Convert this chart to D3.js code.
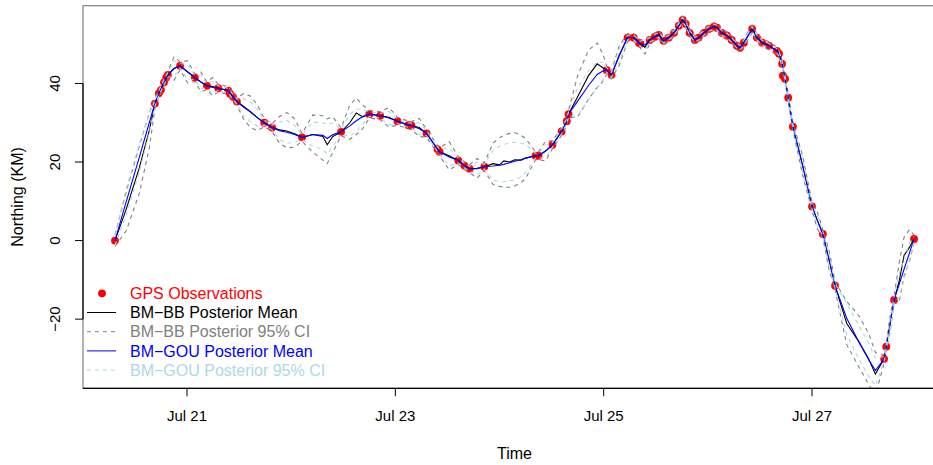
<!DOCTYPE html>
<html>
<head>
<meta charset="utf-8">
<script src="https://cdn.jsdelivr.net/npm/d3@7"></script>
<style>
  body { margin: 0; background: #fff; }
  svg { display: block; font-family: "Liberation Sans", Arial, sans-serif; }
</style>
</head>
<body>
<div id="chart"></div>
<script>
// hours since Jul 20 00:00
var gridHours = [7.4, 10.0, 13.0, 15.3, 16.6, 17.5, 18.7, 19.6, 21.0, 22.4,
  24.1, 25.8, 27.2, 28.6, 29.9, 31.2, 33.5, 34.6, 35.5, 37.0,
  38.6, 40.2, 41.8, 43.6, 45.3, 47.0, 48.8, 50.5, 53.0, 55.3,
  56.3, 57.6, 59.5, 61.5, 63.0, 64.5, 66.0, 68.5, 70.5, 72.5,
  75.0, 75.7, 77.5, 79.2, 81.7, 82.2, 84.4, 86.5, 87.9, 89.1,
  90.8, 92.5, 94.5, 96.0, 97.0, 98.3, 99.5, 101.0, 102.0, 104.3,
  105.0, 106.6, 108.2, 110.3, 111.5, 111.9, 114.0, 116.5, 118.5, 119.8,
  120.7, 121.8, 123.6, 125.5, 126.9, 128.3, 129.5, 130.6, 131.8, 132.7,
  133.8, 135.0, 136.2, 137.3, 138.2, 138.9, 139.8, 141.0, 141.9, 143.1,
  144.2, 145.4, 146.1, 147.2, 148.4, 149.5, 150.7, 151.4, 152.3, 154.2,
  155.3, 156.5, 158.1, 159.9, 160.4, 161.1, 161.8, 162.5, 163.6, 165.8,
  168.0, 169.2, 170.5, 171.9, 173.3, 176.0, 178.7, 181.0, 182.6, 184.6,
  185.1, 186.0, 186.9, 188.1, 189.2, 190.4, 191.5];

var bbMean = [0, 8.0, 18.5, 28.0, 34.9, 37.5, 40.3, 42.2, 43.8, 44.5,
  43.0, 41.5, 40.4, 39.4, 39.2, 38.8, 38.2, 36.6, 35.4, 34.2,
  32.8, 31.3, 30.0, 28.8, 28.2, 27.9, 27.2, 26.3, 27.0, 26.5,
  24.4, 26.5, 27.7, 30.0, 32.5, 31.5, 32.2, 31.8, 31.4, 30.4,
  29.4, 29.3, 28.8, 27.3, 23.3, 22.6, 21.6, 20.4, 19.1, 18.3,
  18.4, 18.8, 19.6, 19.3, 20.3, 20.0, 20.6, 20.5, 21.0, 21.6,
  21.6, 22.8, 24.4, 27.8, 30.4, 32.2, 36.6, 42.0, 45.0, 44.0,
  43.4, 42.2, 47.2, 51.7, 51.7, 50.2, 49.2, 51.1, 51.9, 52.4,
  50.9, 51.7, 52.9, 54.7, 56.2, 55.2, 52.9, 51.1, 51.7, 52.9,
  53.9, 54.5, 54.2, 52.9, 52.2, 51.1, 49.6, 49.1, 50.4, 53.9,
  51.7, 50.4, 49.6, 48.3, 47.6, 45.0, 41.2, 36.4, 29.0, 19.3,
  8.7, 5.2, 1.7, -4.8, -11.5, -21.1, -25.6, -30.0, -34.0, -30.1,
  -27.0, -21.0, -15.1, -10.2, -3.8, -1.8, 0.4];

var bbLower = [-1.5, 2.5, 12.0, 23.5, 33.6, 36.5, 39.3, 41.2, 40.8, 43.5,
  40.2, 40.5, 37.9, 38.4, 36.9, 37.8, 37.2, 35.6, 34.4, 31.0,
  28.8, 28.0, 29.0, 27.8, 24.8, 23.6, 23.8, 25.3, 22.5, 20.5,
  19.6, 22.5, 26.7, 25.8, 27.0, 28.5, 31.2, 30.8, 28.9, 29.4,
  28.4, 28.3, 26.5, 26.3, 22.3, 21.6, 18.0, 19.4, 18.1, 17.3,
  15.9, 17.8, 14.3, 13.8, 13.6, 13.6, 13.9, 14.8, 15.8, 20.6,
  20.6, 20.3, 23.4, 26.8, 29.4, 31.2, 31.5, 36.0, 39.0, 40.5,
  42.4, 41.2, 44.7, 50.7, 50.7, 49.2, 47.5, 50.1, 50.9, 51.4,
  49.9, 50.7, 51.9, 53.7, 55.2, 54.2, 51.9, 50.1, 50.7, 51.9,
  52.9, 53.5, 53.2, 51.9, 51.2, 50.1, 48.6, 48.1, 49.4, 52.9,
  50.7, 49.4, 48.6, 47.3, 46.6, 44.0, 40.2, 35.4, 28.0, 16.8,
  7.7, 3.0, 0.7, -7.3, -12.5, -26.5, -32.0, -36.5, -39.5, -31.1,
  -28.0, -23.0, -16.1, -15.5, -9.0, -5.5, -0.6];

var bbUpper = [1.5, 12.5, 24.0, 32.5, 36.2, 38.5, 41.3, 43.2, 46.8, 45.5,
  45.8, 42.5, 42.9, 40.4, 41.5, 39.8, 39.2, 37.6, 36.4, 37.4,
  36.8, 34.6, 31.0, 29.8, 31.6, 32.6, 31.0, 27.3, 32.0, 31.8,
  31.0, 31.5, 28.7, 34.5, 36.3, 34.5, 33.2, 32.8, 33.9, 31.4,
  30.4, 30.3, 31.1, 28.3, 24.3, 23.6, 25.2, 21.4, 20.1, 19.3,
  20.9, 19.8, 24.8, 26.2, 26.8, 27.3, 27.5, 26.8, 26.0, 22.6,
  22.6, 25.3, 25.4, 28.8, 31.4, 33.2, 42.0, 48.5, 50.3, 47.5,
  44.4, 43.2, 49.7, 52.7, 52.7, 51.2, 51.0, 52.1, 52.9, 53.4,
  51.9, 52.7, 53.9, 55.7, 57.2, 56.2, 53.9, 52.1, 52.7, 53.9,
  54.9, 55.5, 55.2, 53.9, 53.2, 52.1, 50.6, 50.1, 51.4, 54.9,
  52.7, 51.4, 50.6, 49.3, 48.6, 46.0, 42.2, 37.4, 30.0, 21.8,
  9.7, 7.4, 2.7, -2.3, -10.5, -15.5, -19.0, -23.5, -28.5, -29.1,
  -26.0, -19.0, -14.1, -5.5, 0.8, 2.8, 1.4];

var gouMean = [0, 9.9, 21.2, 30.0, 34.9, 37.5, 40.3, 42.2, 43.8, 44.5,
  43.0, 41.5, 40.4, 39.4, 39.0, 38.8, 38.2, 36.6, 35.4, 34.0,
  32.8, 31.3, 30.0, 28.8, 28.0, 27.6, 27.0, 26.3, 27.0, 26.8,
  26.0, 27.0, 27.7, 29.2, 30.5, 31.6, 32.2, 31.8, 31.2, 30.4,
  29.4, 29.3, 28.5, 27.3, 23.3, 22.6, 21.3, 20.4, 19.1, 18.3,
  18.3, 18.8, 19.0, 19.2, 19.4, 19.8, 20.2, 20.6, 21.0, 21.6,
  21.6, 22.8, 24.4, 27.8, 30.4, 32.2, 35.5, 39.5, 42.3, 43.2,
  43.4, 42.2, 47.2, 51.7, 51.7, 50.2, 49.8, 51.1, 51.9, 52.4,
  50.9, 51.7, 52.9, 54.7, 56.2, 55.2, 52.9, 51.1, 51.7, 52.9,
  53.9, 54.5, 54.2, 52.9, 52.2, 51.1, 49.6, 49.1, 50.4, 53.9,
  51.7, 50.4, 49.6, 48.3, 47.6, 45.0, 41.2, 36.4, 29.0, 19.3,
  8.7, 5.2, 1.7, -4.8, -11.5, -19.8, -25.6, -30.2, -33.1, -30.1,
  -27.0, -21.0, -15.1, -11.1, -7.3, -3.3, 0.4];

var gouLower = [-1.2, 6.5, 17.5, 27.5, 34.2, 36.9, 39.7, 41.6, 41.8, 43.9,
  41.2, 40.9, 38.7, 38.8, 37.5, 38.2, 37.6, 36.0, 34.8, 31.8,
  30.3, 29.2, 29.4, 28.2, 25.8, 24.8, 25.0, 25.7, 24.0, 23.2,
  22.0, 24.0, 27.1, 26.5, 27.8, 29.6, 31.6, 31.2, 29.5, 29.8,
  28.8, 28.7, 27.0, 26.7, 22.7, 22.0, 19.0, 19.8, 18.5, 17.7,
  16.6, 18.2, 15.4, 15.0, 15.0, 15.2, 15.5, 16.3, 17.3, 21.0,
  21.0, 21.1, 23.8, 27.2, 29.8, 31.6, 31.8, 35.8, 38.8, 41.0,
  42.8, 41.6, 45.5, 51.1, 51.1, 49.6, 48.6, 50.5, 51.3, 51.8,
  50.3, 51.1, 52.3, 54.1, 55.6, 54.6, 52.3, 50.5, 51.1, 52.3,
  53.3, 53.9, 53.6, 52.3, 51.6, 50.5, 49.0, 48.5, 49.8, 53.3,
  51.1, 49.8, 49.0, 47.7, 47.0, 44.4, 40.6, 35.8, 28.4, 17.6,
  8.1, 3.8, 1.1, -6.4, -12.1, -24.0, -30.0, -34.5, -37.0, -30.7,
  -27.6, -22.3, -15.7, -14.5, -9.8, -5.0, -0.2];

var gouUpper = [1.2, 13.2, 24.5, 32.3, 35.6, 38.1, 40.9, 42.8, 45.8, 45.1,
  44.8, 42.1, 42.1, 40.0, 40.5, 39.4, 38.8, 37.2, 36.0, 36.2,
  35.3, 33.4, 30.6, 29.4, 30.2, 30.6, 29.4, 26.9, 30.2, 30.0,
  29.5, 30.0, 28.3, 32.2, 33.5, 33.4, 32.8, 32.4, 32.9, 31.0,
  30.0, 29.9, 30.0, 27.9, 23.9, 23.2, 23.6, 21.0, 19.7, 18.9,
  20.0, 19.4, 23.0, 24.0, 24.5, 24.9, 25.0, 24.8, 24.5, 22.2,
  22.2, 24.5, 25.0, 28.4, 31.0, 32.8, 39.0, 43.2, 45.5, 45.3,
  44.0, 42.8, 48.9, 52.3, 52.3, 50.8, 51.0, 51.7, 52.5, 53.0,
  51.5, 52.3, 53.5, 55.3, 56.8, 55.8, 53.5, 51.7, 52.3, 53.5,
  54.5, 55.1, 54.8, 53.5, 52.8, 51.7, 50.2, 49.7, 51.0, 54.5,
  52.3, 51.0, 50.2, 48.9, 48.2, 45.6, 41.8, 37.0, 29.6, 21.0,
  9.3, 6.6, 2.3, -3.2, -10.9, -16.0, -21.5, -26.0, -30.0, -29.5,
  -26.4, -19.7, -14.5, -8.3, -4.8, -0.8, 1.0];

var obsHours = [7.4, 16.6, 17.5, 18.0, 18.7, 19.2, 19.6, 22.4, 25.8, 28.6,
  31.2, 33.5, 33.9, 34.6, 35.5, 41.8, 43.6, 50.5, 59.5, 66.0,
  68.5, 72.5, 75.0, 75.7, 79.2, 81.7, 82.2, 86.5, 87.9, 89.1,
  92.5, 104.3, 105.0, 108.2, 110.3, 111.5, 111.9, 120.7, 121.8, 125.5,
  126.9, 128.1, 128.5, 130.6, 131.8, 132.7, 133.8, 135.0, 136.2, 137.3,
  138.2, 138.9, 139.8, 141.0, 141.9, 143.1, 144.2, 145.4, 146.1, 147.2,
  148.4, 149.5, 150.7, 151.4, 152.3, 154.2, 155.3, 156.5, 158.1, 159.9,
  160.4, 161.1, 161.3, 161.8, 162.5, 163.6, 168.0, 170.5, 173.3, 184.6,
  185.1, 186.9, 191.5];

var obsNorthing = [0, 34.9, 37.5, 38.4, 40.3, 41.5, 42.2, 44.5, 41.5, 39.4,
  38.8, 38.2, 37.4, 36.6, 35.4, 30.0, 28.8, 26.3, 27.7, 32.2,
  31.8, 30.4, 29.4, 29.3, 27.3, 23.3, 22.6, 20.4, 19.1, 18.3,
  18.8, 21.6, 21.6, 24.4, 27.8, 30.4, 32.2, 43.4, 42.2, 51.7,
  51.7, 50.4, 50.1, 51.1, 51.9, 52.4, 50.9, 51.7, 52.9, 54.7,
  56.2, 55.2, 52.9, 51.1, 51.7, 52.9, 53.9, 54.5, 54.2, 52.9,
  52.2, 51.1, 49.6, 49.1, 50.4, 53.9, 51.7, 50.4, 49.6, 48.3,
  47.6, 45.0, 42.0, 41.2, 36.4, 29.0, 8.7, 1.7, -11.5, -30.1,
  -27.0, -15.1, 0.4];

var xTickDays = [21, 23, 25, 27];
var yTicks = [-20, 0, 20, 40];
var legendLabels = ["GPS Observations", "BM\u2212BB Posterior Mean", "BM\u2212BB Posterior 95% CI",
  "BM\u2212GOU Posterior Mean", "BM\u2212GOU Posterior 95% CI"];

var W = 933, H = 465;
var margin = { top: 5.7, right: -13, bottom: 76.7, left: 83 };
var width = W - margin.left - margin.right,
    height = H - margin.top - margin.bottom;

var base = new Date(2009, 6, 20);
function toDate(h) { return new Date(base.getTime() + h * 3600000); }

var svg = d3.select("#chart").append("svg")
  .attr("width", W).attr("height", H);

// R style: data range padded 4%
var hExt = d3.extent(obsHours);
var hPad = (hExt[1] - hExt[0]) * 0.04;
var x = d3.scaleTime()
  .domain([toDate(hExt[0] - hPad), toDate(hExt[1] + hPad)])
  .range([margin.left, margin.left + width]);

var vExt = d3.extent(obsNorthing.concat(bbMean, gouMean));
var vPad = (vExt[1] - vExt[0]) * 0.04;
var y = d3.scaleLinear()
  .domain([vExt[0] - vPad, vExt[1] + vPad])
  .range([margin.top + height, margin.top]);

svg.append("clipPath").attr("id", "clip")
  .append("rect")
  .attr("x", margin.left).attr("y", margin.top)
  .attr("width", width).attr("height", height);

var plot = svg.append("g").attr("clip-path", "url(#clip)");

// observations
plot.selectAll("circle.obs")
  .data(obsHours)
  .enter().append("circle")
  .attr("class", "obs")
  .attr("cx", function (d) { return x(toDate(d)); })
  .attr("cy", function (d, i) { return y(obsNorthing[i]); })
  .attr("r", 3.9)
  .attr("fill", "#ff0000");

function lineOf(vals) {
  return d3.line()
    .x(function (d, i) { return x(toDate(gridHours[i])); })
    .y(function (d) { return y(d); })(vals);
}

var series = [
  { v: bbMean, col: "#000000", dash: null },
  { v: bbLower, col: "#808080", dash: "4,4" },
  { v: bbUpper, col: "#808080", dash: "4,4" },
  { v: gouMean, col: "#0000ff", dash: null },
  { v: gouLower, col: "#add8e6", dash: "4,4" },
  { v: gouUpper, col: "#add8e6", dash: "4,4" }
];
series.forEach(function (s) {
  plot.append("path")
    .attr("d", lineOf(s.v))
    .attr("fill", "none")
    .attr("stroke", s.col)
    .attr("stroke-width", 1.1)
    .attr("stroke-dasharray", s.dash);
});

// box
svg.append("rect")
  .attr("x", margin.left).attr("y", margin.top)
  .attr("width", width).attr("height", height)
  .attr("fill", "none").attr("stroke", "#808080").attr("stroke-width", 1.2);

// x axis
var xb = margin.top + height;
svg.append("line")
  .attr("x1", margin.left).attr("x2", W)
  .attr("y1", xb).attr("y2", xb)
  .attr("stroke", "#000").attr("stroke-width", 1.2);
var fmt = d3.timeFormat("%b %-d");
xTickDays.forEach(function (d) {
  var dt = new Date(2009, 6, d);
  var px = x(dt);
  svg.append("line").attr("x1", px).attr("x2", px)
    .attr("y1", xb).attr("y2", xb + 8).attr("stroke", "#000");
  svg.append("text").attr("x", px).attr("y", xb + 33)
    .attr("text-anchor", "middle").attr("font-size", 15)
    .text(fmt(dt));
});
svg.append("text")
  .attr("x", margin.left + width / 2).attr("y", 459)
  .attr("text-anchor", "middle").attr("font-size", 16)
  .text("Time");

// y axis
svg.append("line")
  .attr("x1", margin.left).attr("x2", margin.left)
  .attr("y1", y(yTicks[0])).attr("y2", y(yTicks[yTicks.length - 1]))
  .attr("stroke", "#000").attr("stroke-width", 1.2);
yTicks.forEach(function (t) {
  var py = y(t);
  svg.append("line").attr("x1", margin.left - 8).attr("x2", margin.left)
    .attr("y1", py).attr("y2", py).attr("stroke", "#000");
  svg.append("text")
    .attr("transform", "translate(60," + py + ") rotate(-90)")
    .attr("text-anchor", "middle").attr("font-size", 15)
    .text(t < 0 ? "\u2212" + Math.abs(t) : t);
});
svg.append("text")
  .attr("transform", "translate(23," + (margin.top + height / 2) + ") rotate(-90)")
  .attr("text-anchor", "middle").attr("font-size", 16)
  .text("Northing (KM)");

// legend
var legendCols = ["#ff0000", "#000000", "#808080", "#0000ff", "#add8e6"];
var lg = svg.append("g");
legendLabels.forEach(function (lab, i) {
  var cy = 293.3 + i * 19.2;
  if (i === 0) {
    lg.append("circle").attr("cx", 102).attr("cy", cy).attr("r", 3.9).attr("fill", legendCols[0]);
  } else {
    lg.append("line").attr("x1", 87).attr("x2", 116).attr("y1", cy).attr("y2", cy)
      .attr("stroke", legendCols[i])
      .attr("stroke-dasharray", (i === 2 || i === 4) ? "4,4" : null);
  }
  lg.append("text").attr("x", 130).attr("y", cy + 5.7)
    .attr("font-size", 16).attr("fill", legendCols[i]).text(lab);
});
</script>
</body>
</html>
